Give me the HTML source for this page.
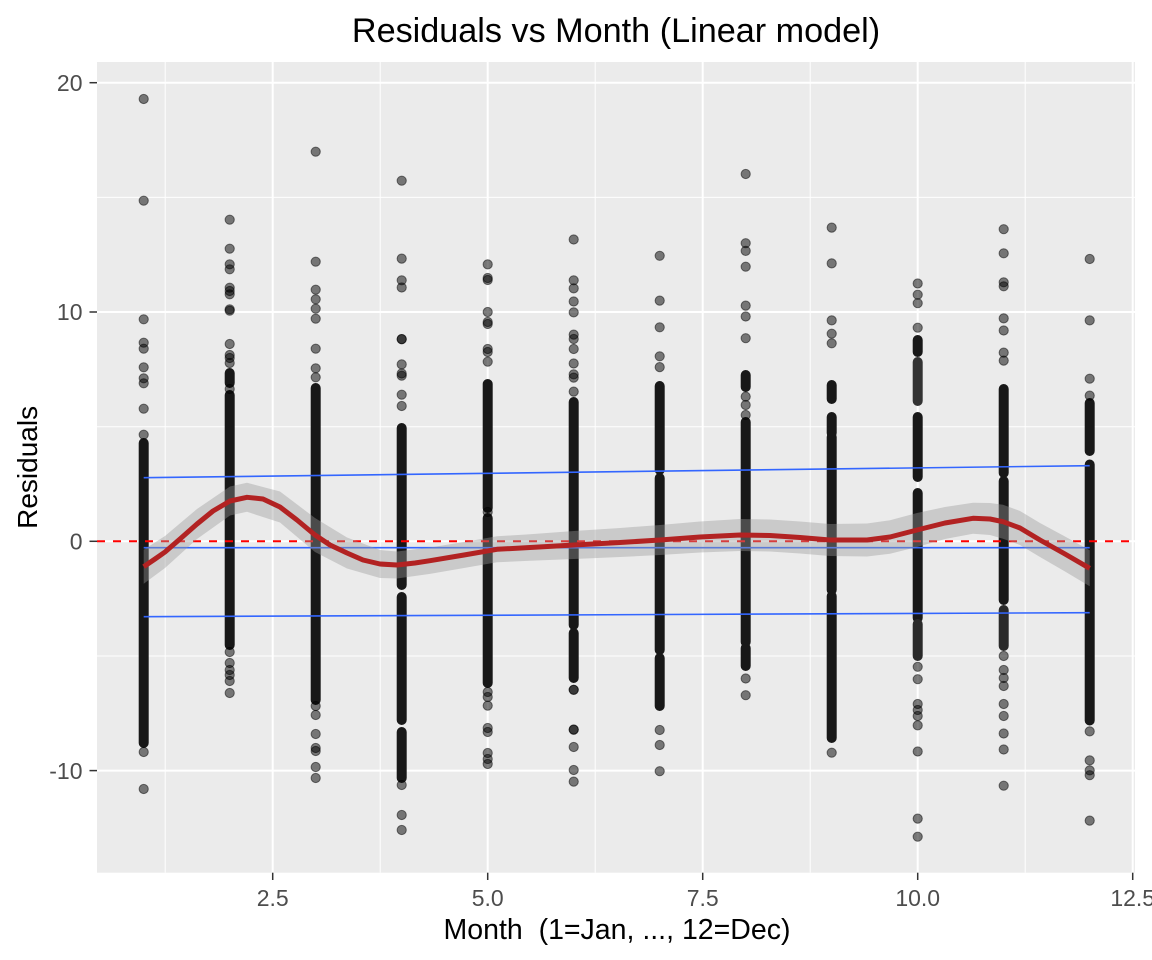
<!DOCTYPE html>
<html><head><meta charset="utf-8"><style>
html,body{margin:0;padding:0;background:#fff;}
svg{display:block;}
text{font-family:"Liberation Sans",Arial,sans-serif;}
</style></head><body>
<svg width="1152" height="960" viewBox="0 0 1152 960" xmlns="http://www.w3.org/2000/svg">
<rect x="0" y="0" width="1152" height="960" fill="#fff"/>
<rect x="97" y="62" width="1038" height="810.7" fill="#EBEBEB"/>
<g stroke="#fff" stroke-width="1">
<line x1="97" x2="1135" y1="656" y2="656"/>
<line x1="97" x2="1135" y1="426.7" y2="426.7"/>
<line x1="97" x2="1135" y1="197.4" y2="197.4"/>
<line y1="62" y2="872.7" x1="165.2" x2="165.2"/>
<line y1="62" y2="872.7" x1="380.2" x2="380.2"/>
<line y1="62" y2="872.7" x1="595.2" x2="595.2"/>
<line y1="62" y2="872.7" x1="810.2" x2="810.2"/>
<line y1="62" y2="872.7" x1="1025.2" x2="1025.2"/>
</g>
<g stroke="#fff" stroke-width="2">
<line x1="97" x2="1135" y1="770.6" y2="770.6"/>
<line x1="97" x2="1135" y1="541.3" y2="541.3"/>
<line x1="97" x2="1135" y1="312" y2="312"/>
<line x1="97" x2="1135" y1="82.7" y2="82.7"/>
<line y1="62" y2="872.7" x1="272.7" x2="272.7"/>
<line y1="62" y2="872.7" x1="487.7" x2="487.7"/>
<line y1="62" y2="872.7" x1="702.7" x2="702.7"/>
<line y1="62" y2="872.7" x1="917.7" x2="917.7"/>
<line y1="62" y2="872.7" x1="1132.7" x2="1132.7"/>
</g>
<!-- dense cores -->
<g fill="#181818">
<rect x="138.7" y="438" width="10" height="310" rx="5"/>
<rect x="224.7" y="368" width="10" height="20" rx="5"/>
<rect x="224.7" y="390" width="10" height="260" rx="5"/>
<rect x="310.7" y="383" width="10" height="322" rx="5"/>
<rect x="396.7" y="423" width="10" height="167" rx="5"/>
<rect x="396.7" y="592" width="10" height="133" rx="5"/>
<rect x="396.7" y="727" width="10" height="56" rx="5"/>
<rect x="482.7" y="379" width="10" height="134" rx="5"/>
<rect x="482.7" y="513" width="10" height="175" rx="5"/>
<rect x="568.7" y="397" width="10" height="233" rx="5"/>
<rect x="568.7" y="628" width="10" height="55" rx="5"/>
<rect x="654.7" y="381" width="10" height="94" rx="5"/>
<rect x="654.7" y="473" width="10" height="182" rx="5"/>
<rect x="654.7" y="653" width="10" height="58" rx="5"/>
<rect x="740.7" y="370" width="10" height="22" rx="5"/>
<rect x="740.7" y="417" width="10" height="230" rx="5"/>
<rect x="740.7" y="643" width="10" height="28" rx="5"/>
<rect x="826.7" y="380" width="10" height="24" rx="5"/>
<rect x="826.7" y="412" width="10" height="26" rx="5"/>
<rect x="826.7" y="432" width="10" height="163" rx="5"/>
<rect x="826.7" y="591" width="10" height="152" rx="5"/>
<rect x="912.7" y="335" width="10" height="22" rx="5"/>
<rect x="912.7" y="357" width="10" height="49" rx="5" fill="#333"/>
<rect x="912.7" y="412" width="10" height="70" rx="5"/>
<rect x="912.7" y="488" width="10" height="135" rx="5"/>
<rect x="912.7" y="619" width="10" height="42" rx="5" fill="#2a2a2a"/>
<rect x="998.7" y="384" width="10" height="94" rx="5"/>
<rect x="998.7" y="476" width="10" height="129" rx="5"/>
<rect x="998.7" y="605" width="10" height="46" rx="5" fill="#2a2a2a"/>
<rect x="1084.7" y="398" width="10" height="58" rx="5"/>
<rect x="1084.7" y="459.5" width="10" height="266" rx="5"/>
</g>
<!-- sparse points -->
<g fill="#000" fill-opacity="0.5" stroke="#000" stroke-opacity="0.5" stroke-width="1">
<circle cx="143.7" cy="99" r="4.6"/><circle cx="143.7" cy="200.7" r="4.6"/><circle cx="143.7" cy="319.3" r="4.6"/><circle cx="143.7" cy="342.7" r="4.6"/><circle cx="143.7" cy="348.7" r="4.6"/><circle cx="143.7" cy="367.3" r="4.6"/><circle cx="143.7" cy="378.3" r="4.6"/><circle cx="143.7" cy="383.3" r="4.6"/><circle cx="143.7" cy="408.7" r="4.6"/><circle cx="143.7" cy="434.7" r="4.6"/><circle cx="143.7" cy="752" r="4.6"/><circle cx="143.7" cy="789" r="4.6"/>
<circle cx="229.7" cy="219.7" r="4.6"/><circle cx="229.7" cy="248.7" r="4.6"/><circle cx="229.7" cy="264.3" r="4.6"/><circle cx="229.7" cy="269.3" r="4.6"/><circle cx="229.7" cy="287.7" r="4.6"/><circle cx="229.7" cy="291" r="4.6"/><circle cx="229.7" cy="294.3" r="4.6"/><circle cx="229.7" cy="309.3" r="4.6"/><circle cx="229.7" cy="310.7" r="4.6"/><circle cx="229.7" cy="344" r="4.6"/><circle cx="229.7" cy="355" r="4.6"/><circle cx="229.7" cy="358" r="4.6"/><circle cx="229.7" cy="363" r="4.6"/><circle cx="229.7" cy="389" r="4.6"/><circle cx="229.7" cy="652" r="4.6"/><circle cx="229.7" cy="663" r="4.6"/><circle cx="229.7" cy="670" r="4.6"/><circle cx="229.7" cy="675" r="4.6"/><circle cx="229.7" cy="681" r="4.6"/><circle cx="229.7" cy="693" r="4.6"/>
<circle cx="315.7" cy="151.7" r="4.6"/><circle cx="315.7" cy="261.7" r="4.6"/><circle cx="315.7" cy="289.7" r="4.6"/><circle cx="315.7" cy="299.3" r="4.6"/><circle cx="315.7" cy="308.7" r="4.6"/><circle cx="315.7" cy="318.7" r="4.6"/><circle cx="315.7" cy="348.7" r="4.6"/><circle cx="315.7" cy="368.3" r="4.6"/><circle cx="315.7" cy="377.3" r="4.6"/><circle cx="315.7" cy="706" r="4.6"/><circle cx="315.7" cy="715" r="4.6"/><circle cx="315.7" cy="734" r="4.6"/><circle cx="315.7" cy="748" r="4.6"/><circle cx="315.7" cy="751" r="4.6"/><circle cx="315.7" cy="767" r="4.6"/><circle cx="315.7" cy="778" r="4.6"/>
<circle cx="401.7" cy="180.7" r="4.6"/><circle cx="401.7" cy="258.6" r="4.6"/><circle cx="401.7" cy="280.3" r="4.6"/><circle cx="401.7" cy="287.5" r="4.6"/><circle cx="401.7" cy="339.1" r="4.6"/><circle cx="401.7" cy="339.1" r="4.6"/><circle cx="401.7" cy="364.4" r="4.6"/><circle cx="401.7" cy="373.5" r="4.6"/><circle cx="401.7" cy="375.7" r="4.6"/><circle cx="401.7" cy="394.7" r="4.6"/><circle cx="401.7" cy="406" r="4.6"/><circle cx="401.7" cy="785" r="4.6"/><circle cx="401.7" cy="815" r="4.6"/><circle cx="401.7" cy="830" r="4.6"/>
<circle cx="487.7" cy="264.4" r="4.6"/><circle cx="487.7" cy="278" r="4.6"/><circle cx="487.7" cy="280" r="4.6"/><circle cx="487.7" cy="312" r="4.6"/><circle cx="487.7" cy="322" r="4.6"/><circle cx="487.7" cy="324" r="4.6"/><circle cx="487.7" cy="349" r="4.6"/><circle cx="487.7" cy="352" r="4.6"/><circle cx="487.7" cy="361.7" r="4.6"/><circle cx="487.7" cy="512" r="4.6"/><circle cx="487.7" cy="692" r="4.6"/><circle cx="487.7" cy="697" r="4.6"/><circle cx="487.7" cy="705.6" r="4.6"/><circle cx="487.7" cy="728" r="4.6"/><circle cx="487.7" cy="732" r="4.6"/><circle cx="487.7" cy="753" r="4.6"/><circle cx="487.7" cy="759" r="4.6"/><circle cx="487.7" cy="764" r="4.6"/>
<circle cx="573.7" cy="239.5" r="4.6"/><circle cx="573.7" cy="280.3" r="4.6"/><circle cx="573.7" cy="288.4" r="4.6"/><circle cx="573.7" cy="301.5" r="4.6"/><circle cx="573.7" cy="312.4" r="4.6"/><circle cx="573.7" cy="334.6" r="4.6"/><circle cx="573.7" cy="339" r="4.6"/><circle cx="573.7" cy="349" r="4.6"/><circle cx="573.7" cy="363.5" r="4.6"/><circle cx="573.7" cy="374.4" r="4.6"/><circle cx="573.7" cy="377.6" r="4.6"/><circle cx="573.7" cy="391.6" r="4.6"/><circle cx="573.7" cy="689.8" r="4.6"/><circle cx="573.7" cy="689.8" r="4.6"/><circle cx="573.7" cy="729.6" r="4.6"/><circle cx="573.7" cy="729.6" r="4.6"/><circle cx="573.7" cy="747" r="4.6"/><circle cx="573.7" cy="770" r="4.6"/><circle cx="573.7" cy="781.6" r="4.6"/>
<circle cx="659.7" cy="255.8" r="4.6"/><circle cx="659.7" cy="300.6" r="4.6"/><circle cx="659.7" cy="327.3" r="4.6"/><circle cx="659.7" cy="356.3" r="4.6"/><circle cx="659.7" cy="367.1" r="4.6"/><circle cx="659.7" cy="730" r="4.6"/><circle cx="659.7" cy="745" r="4.6"/><circle cx="659.7" cy="771.2" r="4.6"/>
<circle cx="745.7" cy="174" r="4.6"/><circle cx="745.7" cy="243.2" r="4.6"/><circle cx="745.7" cy="250.9" r="4.6"/><circle cx="745.7" cy="266.7" r="4.6"/><circle cx="745.7" cy="305.6" r="4.6"/><circle cx="745.7" cy="316.5" r="4.6"/><circle cx="745.7" cy="338.2" r="4.6"/><circle cx="745.7" cy="396.6" r="4.6"/><circle cx="745.7" cy="405" r="4.6"/><circle cx="745.7" cy="415" r="4.6"/><circle cx="745.7" cy="678.5" r="4.6"/><circle cx="745.7" cy="695.2" r="4.6"/>
<circle cx="831.7" cy="227.6" r="4.6"/><circle cx="831.7" cy="263.4" r="4.6"/><circle cx="831.7" cy="320.4" r="4.6"/><circle cx="831.7" cy="333.7" r="4.6"/><circle cx="831.7" cy="343.3" r="4.6"/><circle cx="831.7" cy="752.7" r="4.6"/>
<circle cx="917.7" cy="283.5" r="4.6"/><circle cx="917.7" cy="294.7" r="4.6"/><circle cx="917.7" cy="303.2" r="4.6"/><circle cx="917.7" cy="327.7" r="4.6"/><circle cx="917.7" cy="666.8" r="4.6"/><circle cx="917.7" cy="679.2" r="4.6"/><circle cx="917.7" cy="704" r="4.6"/><circle cx="917.7" cy="710" r="4.6"/><circle cx="917.7" cy="716" r="4.6"/><circle cx="917.7" cy="725.4" r="4.6"/><circle cx="917.7" cy="751.5" r="4.6"/><circle cx="917.7" cy="818.6" r="4.6"/><circle cx="917.7" cy="836.7" r="4.6"/>
<circle cx="1003.7" cy="229.2" r="4.6"/><circle cx="1003.7" cy="253.3" r="4.6"/><circle cx="1003.7" cy="282.3" r="4.6"/><circle cx="1003.7" cy="286.3" r="4.6"/><circle cx="1003.7" cy="318.4" r="4.6"/><circle cx="1003.7" cy="330.5" r="4.6"/><circle cx="1003.7" cy="352.6" r="4.6"/><circle cx="1003.7" cy="360.6" r="4.6"/><circle cx="1003.7" cy="656" r="4.6"/><circle cx="1003.7" cy="670" r="4.6"/><circle cx="1003.7" cy="678" r="4.6"/><circle cx="1003.7" cy="686" r="4.6"/><circle cx="1003.7" cy="704" r="4.6"/><circle cx="1003.7" cy="716" r="4.6"/><circle cx="1003.7" cy="733.5" r="4.6"/><circle cx="1003.7" cy="749.5" r="4.6"/><circle cx="1003.7" cy="785.7" r="4.6"/>
<circle cx="1089.7" cy="259" r="4.6"/><circle cx="1089.7" cy="320.4" r="4.6"/><circle cx="1089.7" cy="378.7" r="4.6"/><circle cx="1089.7" cy="395.6" r="4.6"/><circle cx="1089.7" cy="731.4" r="4.6"/><circle cx="1089.7" cy="760.4" r="4.6"/><circle cx="1089.7" cy="770.4" r="4.6"/><circle cx="1089.7" cy="775.2" r="4.6"/><circle cx="1089.7" cy="820.6" r="4.6"/>
</g>
<!-- zero reference -->
<line x1="97" x2="1135" y1="541.3" y2="541.3" stroke="#FF0000" stroke-width="2" stroke-dasharray="8 8"/>
<!-- quantile lines -->
<g stroke="#3366FF" stroke-width="1.6">
<line x1="143.7" y1="477.7" x2="1089.7" y2="465.7"/>
<line x1="143.7" y1="547.7" x2="1089.7" y2="547.7"/>
<line x1="143.7" y1="616.7" x2="1089.7" y2="612.7"/>
</g>
<!-- ribbon -->
<polygon fill="#999999" fill-opacity="0.4" points="143.7,549.7 165,536 197,509 230,486.5 247,482.8 280,491.5 315,518 347,537.5 380,550 397,551.5 430,547.5 464,542 497,536.3 530,534.2 574,531 620,528 660,525 700,521.5 740,519 770,519.5 800,521.5 830,524 867,523.5 890,520.3 917,513 945,507 973,502.8 990,503 1003,504.7 1020,511 1040,523 1065,536.5 1089.7,550.3 1089.7,586.3 1065,571.5 1040,557 1020,545 1003,538.7 990,535 973,533.8 945,539 917,547 890,553.7 867,556.5 830,556 800,553.5 770,551.5 740,551 700,552.5 660,555 620,557 574,559 530,560.8 497,562.3 464,568 430,573.9 397,578.5 380,578 347,568.5 315,552 280,522.5 247,511.8 230,515.5 197,539 165,568 143.7,583.7"/>
<!-- loess -->
<polyline fill="none" stroke="#B22222" stroke-width="5" stroke-linejoin="round" stroke-linecap="butt" points="143.7,566.7 155,559 165,552 180,539 197,524 213,511 230,501 247,497.3 263,499 280,507 297,520 315,535 330,545 347,553 363,560 380,564 397,565 415,563 430,560.7 464,555 497,549.3 530,547.5 574,545 620,542.5 660,540 700,537 740,535 770,535.5 800,537.5 830,540 867,540 890,537 917,530 945,523 973,518.3 990,519 1003,521.7 1020,528 1040,540 1065,554 1089.7,568.3"/>
<!-- ticks -->
<g stroke="#333333" stroke-width="1.5">
<line x1="89.5" x2="97" y1="770.6" y2="770.6"/>
<line x1="89.5" x2="97" y1="541.3" y2="541.3"/>
<line x1="89.5" x2="97" y1="312" y2="312"/>
<line x1="89.5" x2="97" y1="82.7" y2="82.7"/>
<line y1="872.7" y2="880" x1="272.7" x2="272.7"/>
<line y1="872.7" y2="880" x1="487.7" x2="487.7"/>
<line y1="872.7" y2="880" x1="702.7" x2="702.7"/>
<line y1="872.7" y2="880" x1="917.7" x2="917.7"/>
<line y1="872.7" y2="880" x1="1132.7" x2="1132.7"/>
</g>
<g fill="#4D4D4D" font-size="23" text-anchor="end">
<text x="82.5" y="778.8">-10</text>
<text x="82.5" y="549.5">0</text>
<text x="82.5" y="320.2">10</text>
<text x="82.5" y="90.9">20</text>
</g>
<g fill="#4D4D4D" font-size="23" text-anchor="middle">
<text x="272.7" y="906">2.5</text>
<text x="487.7" y="906">5.0</text>
<text x="702.7" y="906">7.5</text>
<text x="917.7" y="906">10.0</text>
<text x="1132.7" y="906">12.5</text>
</g>
<text x="617" y="939" font-size="28.5" text-anchor="middle" fill="#000" xml:space="preserve">Month  (1=Jan, ..., 12=Dec)</text>
<text transform="translate(37,467.4) rotate(-90)" font-size="28" text-anchor="middle" fill="#000">Residuals</text>
<text x="616" y="42" font-size="34.2" text-anchor="middle" fill="#000">Residuals vs Month (Linear model)</text>
</svg>
</body></html>
